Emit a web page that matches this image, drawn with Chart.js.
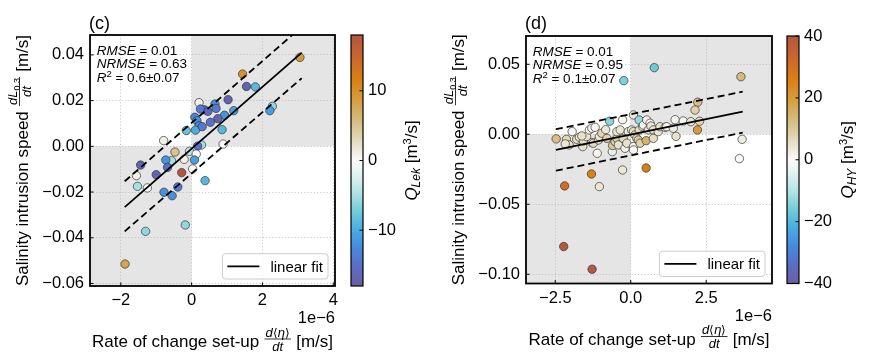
<!DOCTYPE html>
<html>
<head>
<meta charset="utf-8">
<script src="https://cdn.jsdelivr.net/npm/chart.js@4.4.1/dist/chart.umd.min.js"></script>
<style>
  html, body { margin: 0; padding: 0; background: #fff; }
  #wrap { position: relative; width: 872px; height: 361px; }
  canvas { position: absolute; top: 0; }
</style>
</head>
<body>
<div id="wrap">
  <canvas id="panelC" width="436" height="361" style="left:0"></canvas>
  <canvas id="panelD" width="436" height="361" style="left:436px"></canvas>
</div>
<script>
// ---- panel (c): x in 1e-6 m/s, y in m/s, q = Q_Lek [m3/s]
const xC = [3.06, 1.44, 1.55, 1.80, 2.28, 2.21, 1.03, 1.19, 0.93, 0.86, 0.89, 0.74, 0.53, 0.66, 0.69, 0.21, 0.36, 0.25, 0.46, 0.09,
            0.15, 0.21, 0.11, 0.30, -0.15, -0.79, 0.28, 0.17, -0.06, 0.13, -0.47, -0.57, -0.21, 0.08, -0.73, -0.68, -1.44, -1.00, -0.28, 0.03,
            0.38, -1.56, -1.53, -1.25, -0.39, -0.78, -0.55, -0.18, -1.30, -1.88];
const yC = [0.0389, 0.0316, 0.0262, 0.0260, 0.0175, 0.0156, 0.0204, 0.0156, 0.0136, 0.0073, 0.0010, 0.0121, 0.0105, 0.0185, 0.0166, 0.0191, 0.0160, 0.0163, 0.0153, 0.0127,
            0.0112, 0.0090, 0.0071, 0.0086, 0.0069, 0.0025, 0.0006, 0.0001, -0.0022, -0.0034, -0.0025, -0.0063, -0.0057, -0.0060, -0.0060, -0.0092, -0.0082, -0.0124, -0.0115, -0.0099,
            -0.0150, -0.0128, -0.0175, -0.0182, -0.0178, -0.0201, -0.0216, -0.0344, -0.0372, -0.0515];
const qC = [9, 10, -17, -9, -6, -11, -17, -11, -12, -9, 0, -17, -15, -12, -14, 1, -15, -14, -16, -13,
            -12, -13, -10, -14, -8, 1, -5, -15, -4, 0, 5, -5, 1, -11, -12, -15, -17, -17, 18, 0,
            -9, 1, -5, 0, -14, -12, -12, -6, -6, 8];
const fitXC = [-1.89, 3.11];
const fitYC = [-0.0266, 0.0410];
const upYC = [-0.0153, 0.0523];
const loYC = [-0.0372, 0.0298];
const xTicksC = [-2, 0, 2, 4];
const yTicksC = [-0.06, -0.04, -0.02, 0, 0.02, 0.04];
const cbTicksC = [-10, 0, 10];
const statsC = ['0.01', '0.63', '0.6\u00b10.07'];

// ---- panel (d): q = Q_HY [m3/s]
const xD = [0.78, -0.23, 3.65, 3.69, 3.60, 2.22, 2.13, 2.21, 0.51, -0.27, -1.30, -1.04, -2.19, -2.22, -1.28, -2.47,
            -2.13, -2.04, -1.94, -1.79, -1.70, -1.59, -1.57, -1.46, -1.37, -1.29, -1.18, -1.29, -1.24, -1.11, -1.07, -1.04,
            -0.96, -0.83, -0.79, -0.70, -0.61, -0.60, -0.52, -0.46, -0.46, -0.41, -0.35, -0.27, -0.25, -0.19, -0.13, -0.08,
            0.03, 0.09, 0.09, 0.09, 0.09, 0.14, 0.20, 0.28, 0.28, 0.25, 0.31, 0.40, 0.42, 0.51, 0.53, 0.58,
            0.64, 0.67, 0.75, 0.75, 0.91, 0.97, 1.14, 1.19, 1.41, 1.47, 1.50, 1.74, 1.99, 2.28, -2.17, -1.62];
const yD = [0.0476, 0.0383, 0.0411, -0.0036, -0.0174, 0.0229, 0.0173, 0.0031, -0.0241, -0.0255, -0.0284, -0.0374, -0.0369, -0.0802, -0.0964, -0.0033,
            -0.0036, -0.0076, 0.0019, -0.0036, -0.0021, -0.0088, -0.0048, -0.0017, 0.0031, 0.0043, 0.0050, -0.0060, -0.0064, -0.0136, -0.0041, -0.0017,
            0.0007, 0.0033, -0.0029, 0.0093, -0.0124, -0.0080, -0.0053, -0.0029, 0.0019, -0.0076, 0.0031, 0.0104, -0.0029, -0.0100, -0.0064, 0.0019,
            0.0031, 0.0138, 0.0019, -0.0088, -0.0112, -0.0005, -0.0029, 0.0102, 0.0031, -0.0041, -0.0064, 0.0054, 0.0066, -0.0046, 0.0102, 0.0031,
            0.0079, 0.0059, 0.0031, -0.0029, 0.0019, 0.0054, 0.0050, 0.0054, 0.0043, 0.0104, -0.0015, 0.0095, 0.0090, 0.0093, -0.0069, -0.0012];
const qD = [-17, -15, 13, 3, 0, 12, 8, 20, 26, 4, 26, 4, 31, 39, 39, 12,
            7, 5, 1, 6, 4, 5, 6, 5, 1, 1, 1, 5, 6, 1, 5, 4,
            7, 4, 8, -14, -4, 10, 9, 9, 4, 5, 4, 1, 6, 2, 5, 4,
            4, 4, 5, 1, 1, 6, 7, -13, 6, 9, 8, 4, 2, 15, 2, 5,
            1, 4, 5, 6, 4, 5, 5, 1, 3, 1, 5, 1, 4, 7, 4, 5];
const fitXD = [-2.48, 3.71];
const fitYD = [-0.0112, 0.0161];
const upYD = [0.0036, 0.0304];
const loYD = [-0.0260, 0.0012];
const xTicksD = [-2.5, 0, 2.5];
const yTicksD = [-0.10, -0.05, 0, 0.05];
const cbTicksD = [-40, -20, 0, 20, 40];
const statsD = ['0.01', '0.95', '0.1\u00b10.07'];

// diverging colour map, purple-blue -> white -> orange -> brown
const cmapStops = [
  [-1.0, 106, 94, 162], [-0.85, 92, 108, 198], [-0.7, 70, 138, 222], [-0.55, 75, 172, 226],
  [-0.4, 115, 205, 218], [-0.25, 180, 228, 228], [-0.1, 228, 243, 242], [0, 250, 250, 248],
  [0.08, 238, 235, 222], [0.2, 224, 210, 170], [0.35, 212, 182, 115], [0.5, 214, 155, 55],
  [0.65, 218, 128, 18], [0.8, 205, 105, 40], [1.0, 180, 85, 65]
];
function cmap(t) {
  t = Math.max(-1, Math.min(1, t));
  for (let i = 1; i < cmapStops.length; i++) {
    const a = cmapStops[i - 1], b = cmapStops[i];
    if (t <= b[0]) {
      const f = (t - a[0]) / (b[0] - a[0]);
      const c = [1, 2, 3].map(k => Math.round(a[k] + (b[k] - a[k]) * f));
      return `rgb(${c[0]},${c[1]},${c[2]})`;
    }
  }
  return 'rgb(180,85,65)';
}

const FF = '"Liberation Sans", Arial, Helvetica, sans-serif';
Chart.defaults.font.family = FF;
Chart.defaults.color = '#000';
const fnt = (s, it) => (it ? 'italic ' : '') + s + 'px ' + FF;
const minus = s => s.replace('-', '\u2212');

// rich text: runs of {t, s, i, dy} or fractions {num, den}
function runW(ctx, r) {
  if (r.num) return Math.max(seqW(ctx, r.num), seqW(ctx, r.den)) + 3;
  ctx.font = fnt(r.s, r.i);
  return ctx.measureText(r.t).width;
}
function seqW(ctx, runs) { return runs.reduce((a, r) => a + runW(ctx, r), 0); }
function drawSeq(ctx, runs, x, y) {
  for (const r of runs) {
    const w = runW(ctx, r);
    if (r.num) {
      const by = y - 8;
      drawSeq(ctx, r.num, x + (w - seqW(ctx, r.num)) / 2, by - 2.5);
      drawSeq(ctx, r.den, x + (w - seqW(ctx, r.den)) / 2, by + 11.5);
      ctx.fillRect(x + 0.5, by - 0.4, w - 1, 0.8);
    } else {
      ctx.font = fnt(r.s, r.i);
      ctx.fillText(r.t, x, y + (r.dy || 0));
    }
    x += w;
  }
}
function line(ctx, x1, y1, x2, y2) { ctx.beginPath(); ctx.moveTo(x1, y1); ctx.lineTo(x2, y2); ctx.stroke(); }

const yTitle = [
  { t: 'Salinity intrusion speed ', s: 17 },
  { num: [{ t: 'dL', s: 13, i: true }, { t: '0.3', s: 9, dy: 2.5 }], den: [{ t: 'dt', s: 13, i: true }] },
  { t: ' [m/s]', s: 17 }
];
const xTitle = [
  { t: 'Rate of change set-up ', s: 17 },
  { num: [{ t: 'd', s: 13, i: true }, { t: '\u27e8', s: 12 }, { t: '\u03b7', s: 13, i: true }, { t: '\u27e9', s: 12 }], den: [{ t: 'dt', s: 13, i: true }] },
  { t: ' [m/s]', s: 17 }
];

function panelPlugin(o) {
  return {
    id: 'panel' + o.tag,
    beforeDraw(chart) {
      const { ctx, chartArea: a, scales: { x, y } } = chart;
      const x0 = x.getPixelForValue(0), y0 = y.getPixelForValue(0);
      ctx.save();
      ctx.fillStyle = '#e5e5e5';
      ctx.fillRect(a.left, y0, x0 - a.left, a.bottom - y0);
      ctx.fillRect(x0, a.top, a.right - x0, y0 - a.top);
      ctx.restore();
    },
    afterDraw(chart) {
      const { ctx, chartArea: a, scales: { x, y } } = chart;
      ctx.save();
      ctx.fillStyle = '#000';
      ctx.strokeStyle = '#000';

      // frame + inward ticks
      ctx.lineWidth = 1.8;
      ctx.strokeRect(a.left, a.top, a.right - a.left, a.bottom - a.top);
      ctx.lineWidth = 1;
      o.xTicks.forEach(v => { const p = x.getPixelForValue(v); line(ctx, p, a.bottom, p, a.bottom - 3.5); });
      o.yTicks.forEach(v => { const p = y.getPixelForValue(v); line(ctx, a.left, p, a.left + 3.5, p); });

      // stats text
      ctx.textBaseline = 'alphabetic';
      const sx = a.left + 6.7, sy = a.top + 19.5;
      drawSeq(ctx, [{ t: 'RMSE', s: 13.5, i: true }, { t: ' = ' + o.stats[0], s: 13.5 }], sx, sy);
      drawSeq(ctx, [{ t: 'NRMSE', s: 13.5, i: true }, { t: ' = ' + o.stats[1], s: 13.5 }], sx, sy + 13.7);
      drawSeq(ctx, [{ t: 'R', s: 13.5, i: true }, { t: '2', s: 9.5, dy: -5 }, { t: ' = ' + o.stats[2], s: 13.5 }], sx, sy + 27.4);

      // legend
      const lw = 105.6, lh = 25.3, lx = a.right - 7 - lw, ly = a.bottom - 7 - lh;
      ctx.beginPath();
      ctx.roundRect(lx, ly, lw, lh, 3);
      ctx.fillStyle = 'rgba(255,255,255,0.8)';
      ctx.fill();
      ctx.strokeStyle = '#cccccc';
      ctx.lineWidth = 1;
      ctx.stroke();
      ctx.strokeStyle = '#000';
      ctx.lineWidth = 1.8;
      line(ctx, lx + 5, ly + lh / 2, lx + 37, ly + lh / 2);
      ctx.fillStyle = '#000';
      ctx.font = fnt(15);
      ctx.fillText('linear fit', lx + 48, ly + lh / 2 + 5.3);

      // panel tag
      ctx.font = fnt(18);
      ctx.fillText(o.tag, a.left - 1, 28.5);

      // offset text and x title
      ctx.font = fnt(16.5);
      ctx.textAlign = 'right';
      ctx.fillText('1e\u22126', a.right, a.bottom + 37);
      ctx.textAlign = 'left';
      const xw = seqW(ctx, xTitle);
      drawSeq(ctx, xTitle, (a.left + a.right) / 2 - xw / 2, a.bottom + 61);

      // y title
      const cy = (a.top + a.bottom) / 2;
      ctx.save();
      ctx.translate(27.5, cy);
      ctx.rotate(-Math.PI / 2);
      drawSeq(ctx, yTitle, -seqW(ctx, yTitle) / 2, 0);
      ctx.restore();

      // colorbar
      const cb = { l: 351, r: 363, t: a.top, b: a.bottom };
      const g = ctx.createLinearGradient(0, cb.b, 0, cb.t);
      cmapStops.forEach(s => g.addColorStop((s[0] + 1) / 2, `rgb(${s[1]},${s[2]},${s[3]})`));
      ctx.fillStyle = g;
      ctx.fillRect(cb.l, cb.t, cb.r - cb.l, cb.b - cb.t);
      ctx.lineWidth = 1.2;
      ctx.strokeStyle = '#000';
      ctx.strokeRect(cb.l, cb.t, cb.r - cb.l, cb.b - cb.t);
      ctx.fillStyle = '#000';
      ctx.font = fnt(16.5);
      ctx.textBaseline = 'middle';
      ctx.lineWidth = 1;
      o.cbTicks.forEach(v => {
        const p = cb.b - (v + o.qMax) / (2 * o.qMax) * (cb.b - cb.t);
        line(ctx, cb.r - 3.5, p, cb.r, p);
        ctx.fillText(minus(String(v)), cb.r + 5, p);
      });
      ctx.textBaseline = 'alphabetic';
      ctx.save();
      ctx.translate(416.5, cy);
      ctx.rotate(-Math.PI / 2);
      drawSeq(ctx, o.cbLabel, -seqW(ctx, o.cbLabel) / 2, 0);
      ctx.restore();

      ctx.restore();
    }
  };
}

const pts = (xs, ys) => xs.map((v, i) => ({ x: v, y: ys[i] }));

function makePanel(id, o) {
  const lineDs = (ys, dash) => ({
    type: 'line', data: pts(o.fitX, ys), borderColor: '#000', borderWidth: 1.8,
    borderDash: dash, pointRadius: 0, fill: false, showLine: true
  });
  return new Chart(document.getElementById(id), {
    type: 'scatter',
    data: {
      datasets: [
        lineDs(o.fitY, []),
        lineDs(o.upY, [7, 4]),
        lineDs(o.loY, [7, 4]),
        {
          data: pts(o.x, o.y),
          backgroundColor: o.q.map(v => cmap(v / o.qMax)),
          borderColor: '#333',
          borderWidth: 0.7,
          pointRadius: 4.2
        }
      ]
    },
    options: {
      responsive: false,
      animation: false,
      events: [],
      layout: { padding: { left: 0, top: o.area.top, right: 436 - o.area.right, bottom: 0 } },
      plugins: { legend: { display: false }, tooltip: { enabled: false } },
      scales: {
        x: {
          type: 'linear', min: o.xMin, max: o.xMax,
          afterFit: s => { s.height = 361 - o.area.bottom; },
          afterBuildTicks: s => { s.ticks = o.xTicks.map(v => ({ value: v })); },
          grid: { color: '#bdbdbd', lineWidth: 0.8, drawTicks: false },
          border: { display: false, dash: [1.2, 2] },
          ticks: { padding: 5, maxRotation: 0, autoSkip: false, font: { size: 16.5 },
                   callback: v => minus(v.toFixed(o.xDec)) }
        },
        y: {
          type: 'linear', min: o.yMin, max: o.yMax,
          afterFit: s => { s.width = o.area.left; },
          afterBuildTicks: s => { s.ticks = o.yTicks.map(v => ({ value: v })); },
          grid: { color: '#bdbdbd', lineWidth: 0.8, drawTicks: false },
          border: { display: false, dash: [1.2, 2] },
          ticks: { padding: 6, font: { size: 16.5 }, callback: v => minus(v.toFixed(2)) }
        }
      }
    },
    plugins: [panelPlugin(o)]
  });
}

makePanel('panelC', {
  tag: '(c)', x: xC, y: yC, q: qC, qMax: 18,
  fitX: fitXC, fitY: fitYC, upY: upYC, loY: loYC,
  xTicks: xTicksC, yTicks: yTicksC, cbTicks: cbTicksC, stats: statsC, xDec: 0,
  xMin: -2.87, xMax: 4.05, yMin: -0.0611, yMax: 0.0487,
  area: { left: 90, right: 335, top: 35, bottom: 286 },
  cbLabel: [{ t: 'Q', s: 17, i: true }, { t: 'Lek', s: 12, i: true, dy: 3.5 }, { t: ' [m', s: 17 }, { t: '3', s: 11, dy: -6 }, { t: '/s]', s: 17 }]
});

makePanel('panelD', {
  tag: '(d)', x: xD, y: yD, q: qD, qMax: 40,
  fitX: fitXD, fitY: fitYD, upY: upYD, loY: loYD,
  xTicks: xTicksD, yTicks: yTicksD, cbTicks: cbTicksD, stats: statsD, xDec: 1,
  xMin: -3.47, xMax: 4.68, yMin: -0.1066, yMax: 0.0702,
  area: { left: 90, right: 336, top: 36, bottom: 283.5 },
  cbLabel: [{ t: 'Q', s: 17, i: true }, { t: 'HY', s: 12, i: true, dy: 3.5 }, { t: ' [m', s: 17 }, { t: '3', s: 11, dy: -6 }, { t: '/s]', s: 17 }]
});
</script>
</body>
</html>
